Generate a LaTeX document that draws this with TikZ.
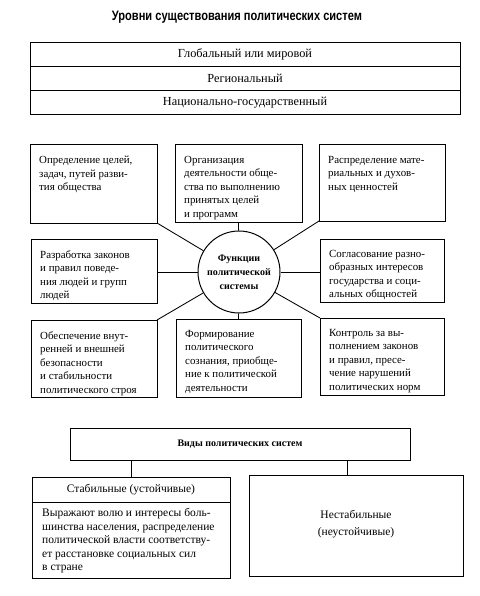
\documentclass[tikz,border=0pt]{standalone}
\usepackage{fontspec}
\setmainfont{Liberation Serif}
\newfontfamily\titlefont{Liberation Sans}
\usepackage{graphicx}
\tikzset{
  fbox/.style={draw, line width=1pt, inner sep=0pt, outer sep=0pt, anchor=north west},
  ftext/.style={inner sep=0pt, anchor=north west, align=left, font=\fontsize{10.9}{13.5}\selectfont},
  ctext/.style={inner sep=0pt, align=center, font=\fontsize{11.5}{16}\selectfont},
  btext/.style={inner sep=0pt, align=center, font=\bfseries\fontsize{10}{14}\selectfont},
  conn/.style={line width=0.85pt},
}
\newcommand{\fbx}[6]{%
  \node[fbox, minimum width=#4pt-#2pt, minimum height=#5pt-#3pt] (#1) at (#2,#3) {};
  \node[ftext] (#1t) at ([shift={(9pt,-11pt)}]#1.north west) {#6};
}
\begin{document}
\begin{tikzpicture}[x=1pt,y=-1pt]
\useasboundingbox[fill=white] (0,0) rectangle (479,596);
% title
\node[inner sep=0pt] (title) at (237,17) {\resizebox{250pt}{9.4pt}{\titlefont\bfseries Уровни существования политических систем}};
% levels
\node[fbox, minimum width=430pt, minimum height=23.67pt] (lvl1) at (30,43) {};
\node[fbox, minimum width=430pt, minimum height=23.67pt] (lvl2) at (lvl1.south west) {};
\node[fbox, minimum width=430pt, minimum height=23.67pt] (lvl3) at (lvl2.south west) {};
\node[ctext, font=\fontsize{12.3}{16}\selectfont] (lvl1t) at (lvl1.center) {Глобальный или мировой};
\node[ctext, font=\fontsize{12.3}{16}\selectfont] (lvl2t) at (lvl2.center) {Региональный};
\node[ctext, font=\fontsize{12.3}{16}\selectfont] (lvl3t) at (lvl3.center) {Национально-государственный};
% function boxes
\fbx{A}{30}{145}{157}{223}{Определение целей,\\задач, путей разви-\\тия общества}
\fbx{B}{175}{145}{302}{222}{Организация\\деятельности обще-\\ства по выполнению\\принятых целей\\и программ}
\fbx{C}{319}{145}{445}{221}{Распределение мате-\\риальных и духов-\\ных ценностей}
\fbx{D}{31}{239}{157}{303}{Разработка законов\\и правил поведе-\\ния людей и групп\\людей}
\fbx{E}{320}{239}{444}{302}{Согласование разно-\\образных интересов\\государства и соци-\\альных общностей}
\fbx{F}{31}{320}{157}{397}{Обеспечение внут-\\ренней и внешней\\безопасности\\и стабильности\\политического строя}
\fbx{G}{176}{319}{301}{397}{Формирование\\политического\\сознания, приобще-\\ние к политической\\деятельности}
\fbx{H}{320}{318}{444}{395}{Контроль за вы-\\полнением законов\\и правил, пресе-\\чение нарушений\\политических норм}
% circle
\node[draw, circle, line width=1pt, minimum size=82pt, inner sep=0pt, btext] (circ) at (239,272) {Функции\\политической\\системы};
\draw[conn] (A.south east) -- (circ);
\draw[conn] (B.south) -- (circ);
\draw[conn] (C.south west) -- (circ);
\draw[conn] (D.east |- circ) -- (circ.west);
\draw[conn] (circ.east) -- (E.west |- circ);
\draw[conn] (F.north east) -- (circ);
\draw[conn] (G.north) -- (circ);
\draw[conn] (H.north west) -- (circ);
% types
\node[fbox, minimum width=340pt, minimum height=32pt] (vidy) at (70,428) {};
\node[btext] (vidyt) at (vidy.center) {Виды политических систем};
\node[fbox, minimum width=198pt, minimum height=101pt] (stab) at (32,477) {};
\draw[line width=1pt] ([yshift=-25pt]stab.north west) -- ([yshift=-25pt]stab.north east);
\node[ctext] (stabt) at ([yshift=-13pt]stab.north) {Стабильные (устойчивые)};
\node[ftext, font=\fontsize{11.5}{13.6}\selectfont] (stabd) at ([shift={(10pt,-31pt)}]stab.north west) {Выражают волю и интересы боль-\\шинства населения, распределение\\политической власти соответству-\\ет расстановке социальных сил\\в стране};
\node[fbox, minimum width=214pt, minimum height=101pt] (nest) at (249,475) {};
\node[ctext, font=\fontsize{11.5}{17}\selectfont] (nestt) at ([yshift=1.5pt]nest.center) {Нестабильные\\(неустойчивые)};
\coordinate (n2) at (347,475);
\draw[conn] (vidy.south -| stab.north) -- (stab.north);
\draw[conn] (vidy.south -| n2) -- (n2);
\end{tikzpicture}
\end{document}
